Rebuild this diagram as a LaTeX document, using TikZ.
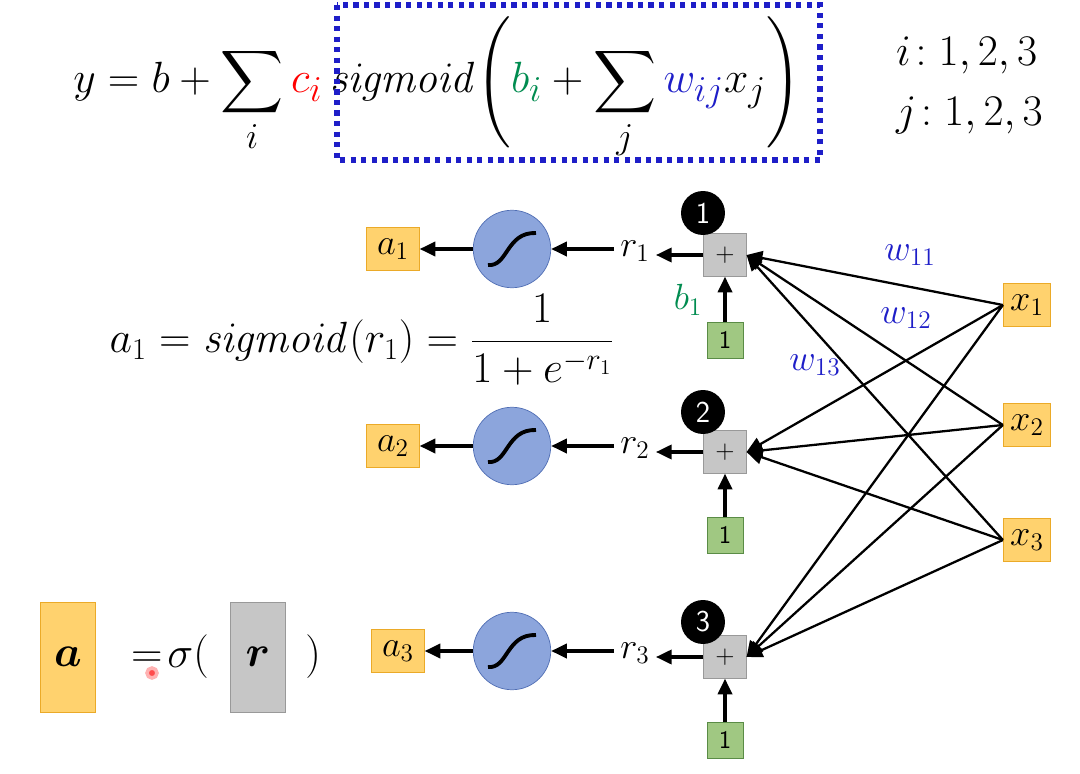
\documentclass[tikz,border=0pt]{standalone}
\usepackage{amsmath}
\usetikzlibrary{arrows.meta}
\definecolor{org}{RGB}{255,210,110}
\definecolor{orgd}{RGB}{235,170,40}
\definecolor{grn}{RGB}{160,200,130}
\definecolor{grnd}{RGB}{90,140,70}
\definecolor{sig}{RGB}{140,165,220}
\definecolor{sigd}{RGB}{80,110,180}
\definecolor{wb}{RGB}{30,30,200}
\definecolor{bg}{RGB}{0,140,80}
\begin{document}
\begin{tikzpicture}[x=0.02cm,y=-0.02cm,
 arr/.style={-{Triangle[length=9pt,width=8pt]},line width=2pt},
 wl/.style={-{Triangle[length=9pt,width=8pt]},line width=1.3pt},
 plus/.style={draw=gray!80,fill=gray!45,minimum size=0.85cm,inner sep=0pt,font=\Large},
 one/.style={draw=grnd,fill=grn,minimum size=0.72cm,inner sep=0pt,font=\Large\sffamily},
 num/.style={circle,fill=black,text=white,minimum size=0.88cm,inner sep=0pt,font=\LARGE\sffamily},
 sg/.style={circle,draw=sigd,fill=sig,minimum size=1.55cm},
 abox/.style={draw=orgd,fill=org,minimum width=1.05cm,minimum height=0.85cm,inner sep=0pt,font=\huge},
 xbox/.style={draw=orgd,fill=org,minimum width=0.95cm,minimum height=0.85cm,inner sep=0pt,font=\huge},
 lab/.style={font=\fontsize{22}{24}\selectfont}]
\useasboundingbox (0,0) rectangle (1080,774);
\fill[white] (0,0) rectangle (1080,774);
\node[font=\fontsize{30}{32}\selectfont] at (437,88) {$y=b+\displaystyle\sum_i {\color{red}c_i}\,\mathit{sigmoid}\Bigg({\color{bg}b_i}+\sum_j {\color{wb}w_{ij}}x_j\Bigg)$};
\draw[wb,line width=3pt,dash pattern=on 3pt off 3pt] (337,5) rectangle (820,160);
\node[font=\fontsize{26}{28}\selectfont,anchor=west] at (890,55) {$i\!:1,2,3$};
\node[font=\fontsize{26}{28}\selectfont,anchor=west] at (890,115) {$j\!:1,2,3$};
\foreach \i/\y/\ny/\gy/\ax in {1/255/213/340/393,2/452/412/535/393,3/657/622/740/398}{
 \node[plus] (p\i) at (725,\y) {$+$};
 \node[num] (n\i) at (703,\ny) {\i};
 \node[one] (g\i) at (725,\gy) {1};
 \draw[arr] (g\i) -- (p\i);
 \node[lab] (r\i) at (635,\y-4) {$r_\i$};
 \draw[arr] (p\i.west) -- (r\i.east|-p\i.west);
 \node[sg] (s\i) at (512,\y-6) {};
 \draw[line width=2.2pt] ([shift={(-24,16)}]s\i.center) .. controls ([shift={(-4,18)}]s\i.center) and ([shift={(-6,-17)}]s\i.center) .. ([shift={(24,-16)}]s\i.center);
 \draw[arr] (r\i.west|-s\i.center) -- (s\i.east);
 \node[abox] (a\i) at (\ax,\y-6) {$a_\i$};
 \draw[arr] (s\i.west) -- (a\i.east);
}
\node[xbox] (x1) at (1027,305) {$x_1$};
\node[xbox] (x2) at (1027,425) {$x_2$};
\node[xbox] (x3) at (1027,540) {$x_3$};
\foreach \i in {1,2,3}{\foreach \j in {1,2,3}{
 \draw[wl] (x\j.west) -- (p\i.east);}}
\node[lab,text=wb] at (910,255) {$w_{11}$};
\node[lab,text=wb] at (906,318) {$w_{12}$};
\node[lab,text=wb] at (815,365) {$w_{13}$};
\node[lab,text=bg] at (688,300) {$b_1$};
\node[font=\fontsize{23}{25}\selectfont] at (362,340) {$a_1=\mathit{sigmoid}(r_1)=\dfrac{1}{1+e^{-r_1}}$};
\node[draw=orgd,fill=org,minimum width=1.1cm,minimum height=2.2cm,font=\fontsize{28}{30}\selectfont] (A) at (68,657) {$\boldsymbol a$};
\node[font=\fontsize{28}{30}\selectfont] at (170,657) {$=\!\sigma($};
\node[draw=gray!80,fill=gray!45,minimum width=1.1cm,minimum height=2.2cm,font=\fontsize{28}{30}\selectfont] (R) at (258,657) {$\boldsymbol r$};
\node[font=\fontsize{28}{30}\selectfont] at (313,657) {$)$};
\fill[red!70,draw=red!30,line width=2pt] (152,673) circle (5);
\end{tikzpicture}
\end{document}
